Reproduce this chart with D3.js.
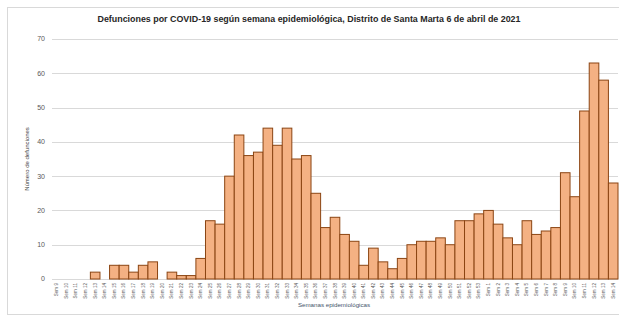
<!DOCTYPE html>
<html>
<head>
<meta charset="utf-8">
<script src="https://cdn.jsdelivr.net/npm/d3@7"></script>
<style>
  html, body { margin: 0; padding: 0; background: #fff; }
  svg { display: block; }
</style>
</head>
<body>
<div id="chart"></div>
<script>
// Epidemiological weeks: 2020 weeks 9–53, then 2021 weeks 1–14
const weeks = [
  "Sem 9","Sem 10","Sem 11","Sem 12","Sem 13","Sem 14","Sem 15","Sem 16","Sem 17","Sem 18",
  "Sem 19","Sem 20","Sem 21","Sem 22","Sem 23","Sem 24","Sem 25","Sem 26","Sem 27","Sem 28",
  "Sem 29","Sem 30","Sem 31","Sem 32","Sem 33","Sem 34","Sem 35","Sem 36","Sem 37","Sem 38",
  "Sem 39","Sem 40","Sem 41","Sem 42","Sem 43","Sem 44","Sem 45","Sem 46","Sem 47","Sem 48",
  "Sem 49","Sem 50","Sem 51","Sem 52","Sem 53",
  "Sem 1","Sem 2","Sem 3","Sem 4","Sem 5","Sem 6","Sem 7","Sem 8","Sem 9","Sem 10",
  "Sem 11","Sem 12","Sem 13","Sem 14"
];

// Deaths per week
const deaths = [
  0, 0, 0, 0, 2, 0, 4, 4, 2, 4,
  5, 0, 2, 1, 1, 6, 17, 16, 30, 42,
  36, 37, 44, 39, 44, 35, 36, 25, 15, 18,
  13, 11, 4, 9, 5, 3, 6, 10, 11, 11,
  12, 10, 17, 17, 19,
  20, 16, 12, 10, 17, 13, 14, 15, 31, 24,
  49, 63, 58, 28
];

const yTicks = [0, 10, 20, 30, 40, 50, 60, 70];

const titleText = "Defunciones por COVID-19 según semana epidemiológica, Distrito de Santa Marta 6 de abril de 2021";
const yTitle = "Número de defunciones";
const xTitle = "Semanas  epidemiológicas";

const W = 619, H = 320;
const margin = { top: 39, right: 1, bottom: 41, left: 52 };

const svg = d3.select("#chart").append("svg")
  .attr("width", W).attr("height", H)
  .style("font-family", "'Liberation Sans', Arial, sans-serif");

// outer chart frame
svg.append("rect")
  .attr("x", 7.5).attr("y", 7.5)
  .attr("width", W + 10).attr("height", H - 13)
  .attr("fill", "#fff").attr("stroke", "#d9d9d9").attr("stroke-width", 1);

const keys = weeks.map((w, i) => i);

const x = d3.scaleBand()
  .domain(keys)
  .range([margin.left, W - margin.right])
  .padding(0);

const y = d3.scaleLinear()
  .domain([0, 70])
  .range([H - margin.bottom, margin.top]);

// horizontal gridlines
svg.append("g")
  .selectAll("line")
  .data(yTicks)
  .join("line")
  .attr("x1", margin.left).attr("x2", W - margin.right)
  .attr("y1", d => Math.round(y(d)) + 0.5).attr("y2", d => Math.round(y(d)) + 0.5)
  .attr("stroke", "#d9d9d9").attr("stroke-width", 1);

// y tick labels
svg.append("g")
  .selectAll("text")
  .data(yTicks)
  .join("text")
  .attr("x", 45)
  .attr("y", d => y(d))
  .attr("dy", "0.35em")
  .attr("text-anchor", "end")
  .attr("font-size", 7)
  .attr("fill", "#595959")
  .text(d => d);

// bars
svg.append("g")
  .selectAll("rect")
  .data(deaths.map((v, i) => ({ i, v })).filter(d => d.v > 0))
  .join("rect")
  .attr("x", d => x(d.i))
  .attr("y", d => y(d.v))
  .attr("width", x.bandwidth())
  .attr("height", d => y(0) - y(d.v))
  .attr("fill", "#F4B183")
  .attr("stroke", "#8B4513")
  .attr("stroke-width", 1);

// x category labels (rotated)
svg.append("g")
  .selectAll("text")
  .data(weeks)
  .join("text")
  .attr("transform", (d, i) => `translate(${x(i) + x.bandwidth() / 2 + 1.5},${y(0) + 4}) rotate(-90)`)
  .attr("text-anchor", "end")
  .attr("font-size", 4.6)
  .attr("fill", "#595959")
  .text(d => d);

// titles
svg.append("text")
  .attr("x", 309).attr("y", 22)
  .attr("text-anchor", "middle")
  .attr("font-size", 8.6)
  .attr("font-weight", "bold")
  .attr("fill", "#262626")
  .attr("textLength", 423)
  .attr("lengthAdjust", "spacingAndGlyphs")
  .text(titleText);

svg.append("text")
  .attr("transform", `translate(29,${(y(0) + y(70)) / 2}) rotate(-90)`)
  .attr("text-anchor", "middle")
  .attr("font-size", 6)
  .attr("fill", "#404040")
  .text(yTitle);

svg.append("text")
  .attr("x", 334).attr("y", 307)
  .attr("text-anchor", "middle")
  .attr("font-size", 6.2)
  .attr("fill", "#44546A")
  .text(xTitle);
</script>
</body>
</html>
